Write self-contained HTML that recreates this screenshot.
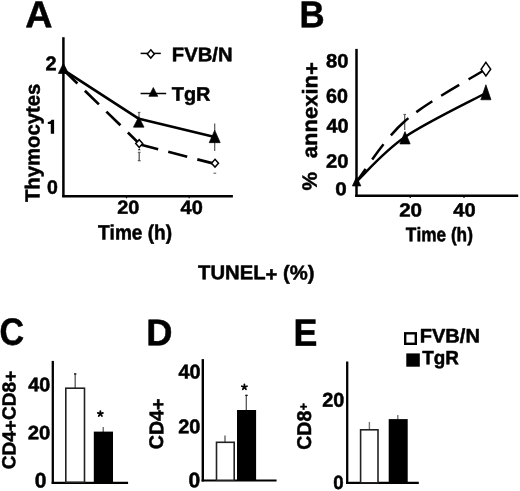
<!DOCTYPE html>
<html><head><meta charset="utf-8"><style>
html,body{margin:0;padding:0;background:#fff;}
svg{display:block;filter:grayscale(1) blur(0.3px);}
text{font-family:"Liberation Sans",sans-serif;font-weight:bold;font-kerning:none;text-rendering:geometricPrecision;fill:#000;}
</style></head><body>
<svg width="520" height="491" viewBox="0 0 520 491">
<text font-size="37" transform="translate(25.211 27.35) scale(1.019 1.014) translate(0 -0.023) skewY(0.1)" stroke="#000" stroke-width="0.492" stroke-linejoin="round">A</text>
<text font-size="37" transform="translate(299.425 27.35) scale(0.94 1.014) translate(0 -0.024) skewY(0.1)" stroke="#000" stroke-width="0.512" stroke-linejoin="round">B</text>
<text font-size="37" transform="translate(-0.449 344.879) scale(0.922 1.027) translate(0 -0.024) skewY(0.1)" stroke="#000" stroke-width="0.513" stroke-linejoin="round">C</text>
<text font-size="37" transform="translate(146.318 345.25) scale(0.983 1.006) translate(0 -0.024) skewY(0.1)" stroke="#000" stroke-width="0.503" stroke-linejoin="round">D</text>
<text font-size="37" transform="translate(293.453 345.65) scale(0.968 1.033) translate(0 -0.022) skewY(0.1)" stroke="#000" stroke-width="0.5" stroke-linejoin="round">E</text>
<line x1="63.4" y1="37.2" x2="63.4" y2="197.1" stroke="#000" stroke-width="2.5"/>
<line x1="62.2" y1="196.2" x2="232.9" y2="196.2" stroke="#000" stroke-width="2.5"/>
<text font-size="20" transform="translate(45.459 70.15) scale(0.997 0.995) translate(0 -0.01) skewY(0.1)" stroke="#000" stroke-width="0.502" stroke-linejoin="round">2</text>
<path d="M54.1 119.8L54.1 133.8L50.8 133.8L50.8 124.1L47.8 124.1L47.8 121.9C49.6 121.8 50.9 121.2 51.4 119.8Z"/>
<text font-size="20" transform="translate(46.877 193.66) scale(0.978 0.975) translate(0 -0.01) skewY(0.1)" stroke="#000" stroke-width="0.512" stroke-linejoin="round">0</text>
<text font-size="20" transform="translate(39.55 202.078) rotate(-90) scale(1.015 1.017) translate(0 -0.101) skewY(0.1)" stroke="#000" stroke-width="0.492" stroke-linejoin="round">Thymocytes</text>
<text font-size="20" transform="translate(117.161 213.865) scale(0.994 0.946) translate(0 -0.019) skewY(0.1)" stroke="#000" stroke-width="0.515" stroke-linejoin="round">20</text>
<text font-size="20" transform="translate(180.548 214.061) scale(0.999 0.968) translate(0 -0.019) skewY(0.1)" stroke="#000" stroke-width="0.509" stroke-linejoin="round">40</text>
<text font-size="20" transform="translate(97.936 239.5) scale(0.954 1.043) translate(0 -0.067) skewY(0.1)" stroke="#000" stroke-width="0.501" stroke-linejoin="round">Time (h)</text>
<line x1="126.5" y1="196" x2="126.5" y2="198.3" stroke="#000" stroke-width="1.2"/>
<line x1="189.2" y1="196" x2="189.2" y2="198.3" stroke="#000" stroke-width="1.2"/>
<line x1="140.6" y1="53.4" x2="160.8" y2="53.4" stroke="#000" stroke-width="1.5"/>
<path d="M150.8 49.8L154.35 53.9L150.8 58L147.25 53.9Z" fill="#fff" stroke="#000" stroke-width="1.5"/>
<text font-size="20" transform="translate(171.796 61.25) scale(1.012 0.988) translate(0 -0.052) skewY(0.1)" stroke="#000" stroke-width="0.5" stroke-linejoin="round">FVB/N</text>
<line x1="140.6" y1="93.5" x2="166.2" y2="93.5" stroke="#000" stroke-width="1.5"/>
<path d="M153.3 87.56L157.74 96.35L148.86 96.35Z" stroke="#000" stroke-width="0.7" stroke-linejoin="round"/>
<text font-size="20" transform="translate(171.827 100.75) scale(0.994 0.988) translate(0 -0.034) skewY(0.1)" stroke="#000" stroke-width="0.505" stroke-linejoin="round">TgR</text>
<line x1="139" y1="112.1" x2="139" y2="118" stroke="#555" stroke-width="1.2"/>
<line x1="137.8" y1="112.4" x2="140.4" y2="112.4" stroke="#555" stroke-width="1"/>
<line x1="214.7" y1="123.5" x2="214.7" y2="131" stroke="#555" stroke-width="1.2"/>
<line x1="214.7" y1="142" x2="214.7" y2="151" stroke="#555" stroke-width="1.2"/>
<line x1="139.2" y1="152.3" x2="139.2" y2="161" stroke="#555" stroke-width="1.3"/>
<path d="M137.8 150.2L140.6 150.2L139.2 148.3Z" fill="#111"/>
<line x1="137.8" y1="152.3" x2="140.6" y2="152.3" stroke="#555" stroke-width="1"/>
<line x1="137.8" y1="160.7" x2="140.6" y2="160.7" stroke="#555" stroke-width="1.2"/>
<line x1="213.5" y1="173.2" x2="216.2" y2="173.2" stroke="#555" stroke-width="1"/>
<path d="M63.4 69.8L139 118.8L214.7 137" fill="none" stroke="#000" stroke-width="2.7" stroke-linejoin="round"/>
<path d="M63.4 69.8L139.2 143.6" fill="none" stroke="#000" stroke-width="2.7" stroke-dasharray="19.6 10.4"/>
<path d="M139.2 144.3L215 163.9" fill="none" stroke="#000" stroke-width="2.7" stroke-dasharray="19.6 10.4"/>
<path d="M63.4 63.36L68.44 73.45L58.36 73.45Z" stroke="#000" stroke-width="0.7" stroke-linejoin="round"/>
<path d="M138.75 116.86L144.04 127.15L133.46 127.15Z" stroke="#000" stroke-width="0.7" stroke-linejoin="round"/>
<path d="M214.7 130.26L220.19 142.65L209.21 142.65Z" stroke="#000" stroke-width="0.7" stroke-linejoin="round"/>
<path d="M139.2 139.7L142.7 143.6L139.2 147.5L135.7 143.6Z" fill="#fff" stroke="#000" stroke-width="1.5"/>
<path d="M215 159.3L218.5 163.2L215 167.1L211.5 163.2Z" fill="#fff" stroke="#000" stroke-width="1.5"/>
<line x1="356.5" y1="48.9" x2="356.5" y2="197" stroke="#000" stroke-width="2.5"/>
<line x1="355.3" y1="195.7" x2="518.2" y2="195.7" stroke="#000" stroke-width="2.5"/>
<line x1="410.2" y1="196" x2="410.2" y2="198" stroke="#000" stroke-width="1.2"/>
<line x1="464" y1="196" x2="464" y2="198" stroke="#000" stroke-width="1.2"/>
<text font-size="20" transform="translate(326.109 67.56) scale(1.01 0.975) translate(0 -0.019) skewY(0.1)" stroke="#000" stroke-width="0.504" stroke-linejoin="round">80</text>
<text font-size="20" transform="translate(326.028 102.656) scale(0.986 0.996) translate(0 -0.019) skewY(0.1)" stroke="#000" stroke-width="0.505" stroke-linejoin="round">60</text>
<text font-size="20" transform="translate(326.449 132.458) scale(0.994 0.982) translate(0 -0.019) skewY(0.1)" stroke="#000" stroke-width="0.506" stroke-linejoin="round">40</text>
<text font-size="20" transform="translate(326.048 167.76) scale(1.013 0.975) translate(0 -0.019) skewY(0.1)" stroke="#000" stroke-width="0.503" stroke-linejoin="round">20</text>
<text font-size="20" transform="translate(335.235 195.168) scale(1.03 0.932) translate(0 -0.01) skewY(0.1)" stroke="#000" stroke-width="0.51" stroke-linejoin="round">0</text>
<text font-size="21" transform="translate(316.888 190.47) rotate(-90) scale(0.995 0.988) translate(0 -0.016) skewY(0.1)" stroke="#000" stroke-width="0.504" stroke-linejoin="round">%</text>
<text font-size="21" transform="translate(317.15 158.296) rotate(-90) scale(1.049 1.005) translate(0 -0.08) skewY(0.1)" dy="0 0 0 0 0 0 0 1.651" stroke="#000" stroke-width="0.487" stroke-linejoin="round">annexin+</text>
<text font-size="20" transform="translate(399.134 216.564) scale(1.032 0.953) translate(0 -0.019) skewY(0.1)" stroke="#000" stroke-width="0.504" stroke-linejoin="round">20</text>
<text font-size="20" transform="translate(453.346 216.462) scale(1.004 0.96) translate(0 -0.019) skewY(0.1)" stroke="#000" stroke-width="0.509" stroke-linejoin="round">40</text>
<text font-size="20" transform="translate(405.856 241.25) scale(0.862 0.988) translate(0 -0.067) skewY(0.1)" stroke="#000" stroke-width="0.54" stroke-linejoin="round">Time (h)</text>
<line x1="404.7" y1="114.2" x2="404.7" y2="130" stroke="#555" stroke-width="1.2"/>
<line x1="403.4" y1="114.4" x2="406" y2="114.4" stroke="#555" stroke-width="1"/>
<path d="M357 181 C365 173.667 383.5 151.667 405 137 C426.5 122.333 472.5 100.333 486 93" fill="none" stroke="#000" stroke-width="2.45"/>
<path d="M357 181 C365 171 383.5 139.667 405 121 C426.5 102.333 472.5 77.667 486 69" fill="none" stroke="#000" stroke-width="2.5" stroke-dasharray="15 11.4 19.1 11.4 24.8 9.8 19.3 10.4 21 10.8 40 10"/>
<path d="M356.6 176.86L360.84 185.95L352.36 185.95Z" stroke="#000" stroke-width="0.7" stroke-linejoin="round"/>
<path d="M405 131.56L410.14 143.95L399.86 143.95Z" stroke="#000" stroke-width="0.7" stroke-linejoin="round"/>
<path d="M485.9 84.76L490.99 99.75L480.81 99.75Z" stroke="#000" stroke-width="0.7" stroke-linejoin="round"/>
<path d="M485.9 62.4L490.7 69.2L485.9 76L481.1 69.2Z" fill="#fff" stroke="#000" stroke-width="1.5"/>
<text font-size="20" transform="translate(198.022 279.35) scale(1.013 1.003) translate(0 -0.1) skewY(0.1)" dy="0 0 0 0 0 1.572 -1.572 0 0 0" stroke="#000" stroke-width="0.496" stroke-linejoin="round">TUNEL+ (%)</text>
<line x1="52.8" y1="360.9" x2="52.8" y2="483.8" stroke="#000" stroke-width="2.3"/>
<line x1="51.7" y1="482.8" x2="128.1" y2="482.8" stroke="#000" stroke-width="2.2"/>
<text font-size="20" transform="translate(28.35 391.358) scale(0.989 0.982) translate(0 -0.019) skewY(0.1)" stroke="#000" stroke-width="0.507" stroke-linejoin="round">40</text>
<text font-size="20" transform="translate(27.644 439.26) scale(1.018 0.975) translate(0 -0.019) skewY(0.1)" stroke="#000" stroke-width="0.502" stroke-linejoin="round">20</text>
<text font-size="20" transform="translate(34.718 487.444) scale(1.051 1.052) translate(0 -0.01) skewY(0.1)" stroke="#000" stroke-width="0.475" stroke-linejoin="round">0</text>
<text font-size="20" transform="translate(15.45 469.333) rotate(-90) scale(0.954 0.945) translate(0 -0.09) skewY(0.1)" dy="0 0 0 1.572 -1.572 0 0 1.572" stroke="#000" stroke-width="0.527" stroke-linejoin="round">CD4+CD8+</text>
<line x1="75.2" y1="373.4" x2="75.2" y2="388" stroke="#555" stroke-width="1.3"/>
<rect x="74" y="373.3" width="2.4" height="1.3" fill="#111"/>
<rect x="65.8" y="388.2" width="18.7" height="94" fill="#fff" stroke="#222" stroke-width="1.6"/>
<line x1="103.2" y1="426.9" x2="103.2" y2="432" stroke="#555" stroke-width="1.2"/>
<rect x="93.8" y="431.6" width="19.2" height="51.2" fill="#000"/>
<path d="M100.35 413.8L100.35 411.1M100.35 413.8L102.918 412.966M100.35 413.8L101.937 415.984M100.35 413.8L98.763 415.984M100.35 413.8L97.782 412.966" stroke="#000" stroke-width="1.8" stroke-linecap="round"/>
<line x1="202.8" y1="359.1" x2="202.8" y2="481.5" stroke="#000" stroke-width="2.4"/>
<line x1="201.6" y1="480.5" x2="276.6" y2="480.5" stroke="#000" stroke-width="2.2"/>
<text font-size="20" transform="translate(178.449 378.456) scale(0.994 0.996) translate(0 -0.019) skewY(0.1)" stroke="#000" stroke-width="0.503" stroke-linejoin="round">40</text>
<text font-size="20" transform="translate(178.258 433.256) scale(0.998 0.996) translate(0 -0.019) skewY(0.1)" stroke="#000" stroke-width="0.501" stroke-linejoin="round">20</text>
<text font-size="20" transform="translate(188.418 487.344) scale(1.051 1.052) translate(0 -0.01) skewY(0.1)" stroke="#000" stroke-width="0.475" stroke-linejoin="round">0</text>
<text font-size="20" transform="translate(163.15 449.255) rotate(-90) scale(0.981 0.988) translate(0 -0.045) skewY(0.1)" dy="0 0 0 1.572" stroke="#000" stroke-width="0.508" stroke-linejoin="round">CD4+</text>
<line x1="225" y1="435.4" x2="225" y2="442" stroke="#555" stroke-width="1.3"/>
<rect x="216.5" y="442.3" width="17.7" height="38" fill="#fff" stroke="#222" stroke-width="1.6"/>
<line x1="246.3" y1="395" x2="246.3" y2="410.5" stroke="#555" stroke-width="1.3"/>
<rect x="245.3" y="394.7" width="2.4" height="1.3" fill="#111"/>
<rect x="237" y="410" width="19.1" height="70.5" fill="#000"/>
<path d="M244.4 387.1L244.4 384.4M244.4 387.1L246.968 386.266M244.4 387.1L245.987 389.284M244.4 387.1L242.813 389.284M244.4 387.1L241.832 386.266" stroke="#000" stroke-width="1.8" stroke-linecap="round"/>
<line x1="347.2" y1="361.5" x2="347.2" y2="483.8" stroke="#000" stroke-width="2.3"/>
<line x1="346" y1="482.8" x2="418.8" y2="482.8" stroke="#000" stroke-width="2.2"/>
<text font-size="20" transform="translate(322.161 406.654) scale(0.994 1.003) translate(0 -0.019) skewY(0.1)" stroke="#000" stroke-width="0.501" stroke-linejoin="round">20</text>
<text font-size="20" transform="translate(333.21 488.962) scale(0.936 0.96) translate(0 -0.01) skewY(0.1)" stroke="#000" stroke-width="0.527" stroke-linejoin="round">0</text>
<text font-size="20" transform="translate(310.95 449.75) rotate(-90) scale(0.975 0.996) translate(0 -0.035) skewY(0.1)" stroke="#000" stroke-width="0.508" stroke-linejoin="round">CD8</text>
<text font-size="14" transform="translate(307.841 410.178) rotate(-90) scale(0.897 0.9) translate(0 -0.007) skewY(0.1)" stroke="#000" stroke-width="0.556" stroke-linejoin="round">+</text>
<line x1="369.4" y1="421.9" x2="369.4" y2="429.5" stroke="#777" stroke-width="1.4"/>
<rect x="360.6" y="429.8" width="17.4" height="53" fill="#fff" stroke="#222" stroke-width="1.6"/>
<line x1="397.8" y1="415" x2="397.8" y2="419.5" stroke="#777" stroke-width="1.4"/>
<rect x="388.7" y="419.1" width="19" height="63.7" fill="#000"/>
<rect x="405.2" y="333.3" width="10.6" height="10.5" fill="#fff" stroke="#000" stroke-width="2.4"/>
<rect x="406.3" y="353.4" width="13.5" height="13.3" fill="#000"/>
<text font-size="20" transform="translate(419.708 342.45) scale(1.003 0.981) translate(0 -0.052) skewY(0.1)" stroke="#000" stroke-width="0.504" stroke-linejoin="round">FVB/N</text>
<text font-size="20" transform="translate(422.138 364.35) scale(0.944 0.967) translate(0 -0.034) skewY(0.1)" stroke="#000" stroke-width="0.523" stroke-linejoin="round">TgR</text>
</svg>
</body></html>
